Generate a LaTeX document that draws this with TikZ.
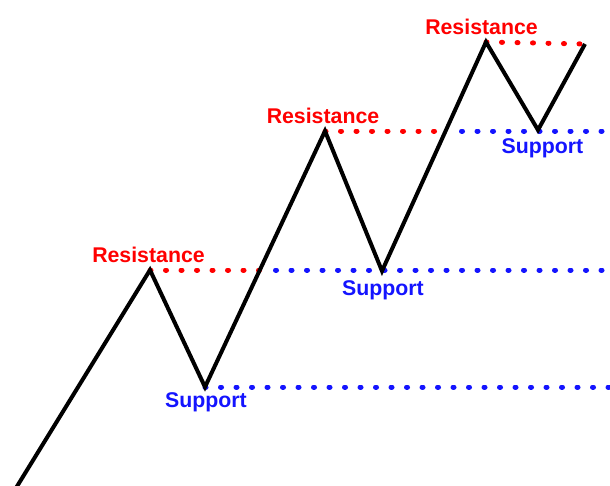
\documentclass[tikz,border=0pt]{standalone}
\usepackage{fontspec}
\setmainfont{Liberation Sans}
\begin{document}
\begin{tikzpicture}[x=1pt,y=-1pt,
  price/.style={line width=4pt,line join=miter,black},
  resline/.style={line width=5pt,line cap=round,dash pattern=on 1pt off 14.5pt,color=resred},
  supline/.style={line width=5pt,line cap=round,dash pattern=on 1pt off 14.5pt,color=supblue},
  reslabel/.style={text=resred,font=\bfseries\fontsize{21.3}{24}\selectfont,anchor=base,inner sep=0pt},
  suplabel/.style={text=supblue,font=\bfseries\fontsize{21.3}{24}\selectfont,anchor=base,inner sep=0pt}]
\definecolor{resred}{RGB}{255,0,0}
\definecolor{supblue}{RGB}{20,20,255}
\useasboundingbox (0,0) rectangle (610,485);
% price path points
\coordinate (s) at (16,488);
\coordinate (p1) at (150,270);
\coordinate (v1) at (205,387);
\coordinate (p2) at (325,131);
\coordinate (v2) at (382,271);
\coordinate (p3) at (486,42);
\coordinate (v3) at (538,130);
\coordinate (e) at (585,44);
% crossings
\coordinate (c1) at (260,270);
\coordinate (c2) at (446,131);
\coordinate (r1) at (610,387);
\coordinate (r2) at (610,270);
\coordinate (r3) at (610,131);
% dotted lines
\draw[resline] (p1) -- (c1);
\draw[supline] (c1) ++(15.5,0) -- (r2);
\draw[supline] (v1) -- (r1);
\draw[resline] (p2) -- (c2);
\draw[supline] (c2) ++(15.5,0) -- (r3);
\draw[resline] (p3) -- (e);
% price line
\draw[price] (s) -- (p1) -- (v1) -- (p2) -- (v2) -- (p3) -- (v3) -- (e);
% labels
\node[reslabel] (l1) at (148.5,262) {Resistance};
\node[suplabel] (l2) at (206,407) {Support};
\node[reslabel] (l3) at (323,123) {Resistance};
\node[suplabel] (l4) at (383,295) {Support};
\node[reslabel] (l5) at (481.5,34) {Resistance};
\node[suplabel] (l6) at (542.5,153) {Support};
\end{tikzpicture}
\end{document}
